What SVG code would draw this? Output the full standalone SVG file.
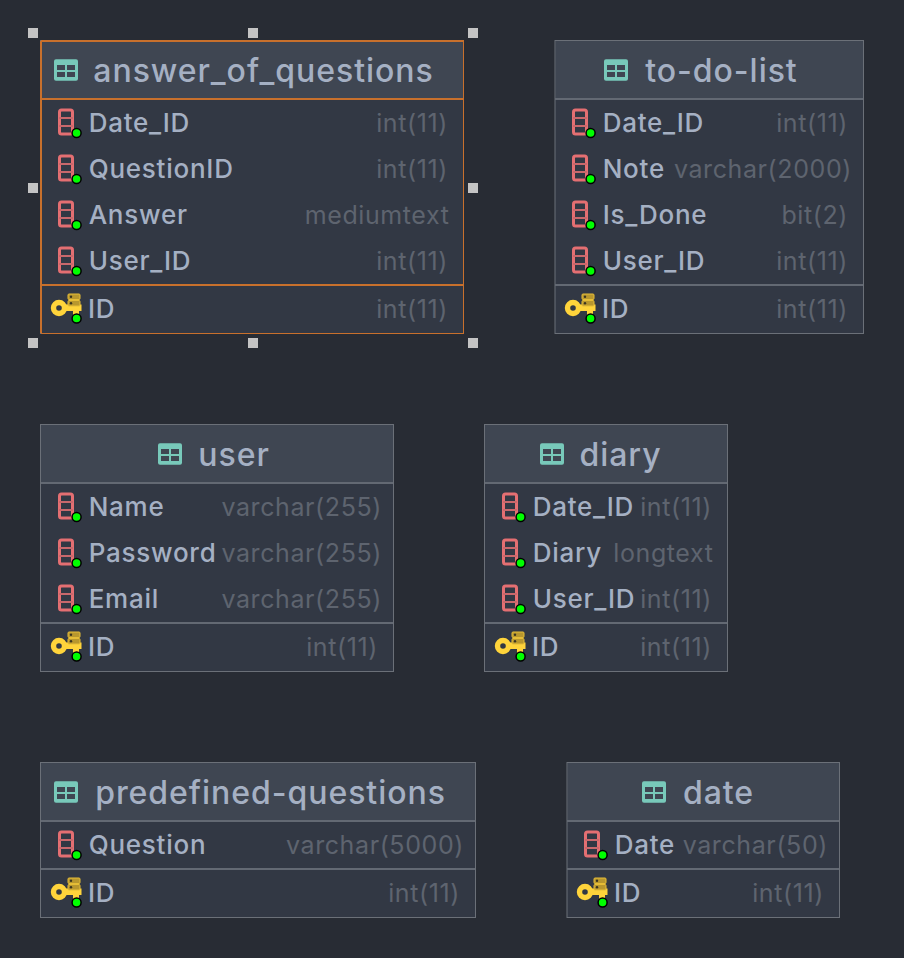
<svg xmlns="http://www.w3.org/2000/svg" xmlns:xlink="http://www.w3.org/1999/xlink" width="904" height="958" viewBox="0 0 904 958">
<style>
text{font-family:Inter,"Noto Sans","Liberation Sans",sans-serif}
.body{fill:#323844;stroke:#6b7078;stroke-width:1}
.head{fill:#3f4652}
.sep{stroke:#636973;stroke-width:2}
.title{font-size:32px;font-weight:500;fill:#a5b0c3;letter-spacing:.95px;text-anchor:middle}
.name{font-size:26px;font-weight:500;fill:#a5b0c3;letter-spacing:.75px}
.type{font-size:25px;fill:#5e646f;text-anchor:end;letter-spacing:.6px}
.sel{stroke:#c8702c}
.h{fill:#c4c4c4}
</style>
<defs>
<g id="tbl"><rect x="0" y="-.7" width="24" height="21.400" rx="2" fill="#78c9ba"/><g fill="#3f4652"><rect x="3" y="5" width="8" height="5"/><rect x="13" y="5" width="8" height="5"/><rect x="3" y="12" width="8" height="5"/><rect x="13" y="12" width="8" height="5"/></g></g>
<g id="col"><rect x="1.500" y="1" width="13" height="24" rx="2" fill="none" stroke="#e46f72" stroke-width="3"/><path d="M1 9h14M1 17h14" stroke="#c9686c" stroke-width="2.200"/><circle cx="18.600" cy="24" r="4.500" fill="#0f0" stroke="#000" stroke-width="1.500"/></g>
<g id="key"><circle cx="8" cy="14" r="5.500" fill="none" stroke="#ffd43b" stroke-width="5.400"/><path d="M13 10.500h17.500v6.500h-2.500v7h-6v-7H13z" fill="#ffd43b"/><g fill="#b8972e" stroke="#e6bd36" stroke-width="1"><rect x="17" y="0" width="12" height="5.500" rx="1"/><rect x="17" y="6.500" width="12" height="5.500" rx="1"/></g><circle cx="20" cy="2.800" r="1.200" fill="#3a3420"/><circle cx="20" cy="9.300" r="1.200" fill="#3a3420"/><circle cx="25.600" cy="24.500" r="4.500" fill="#0f0" stroke="#000" stroke-width="1.500"/></g>
</defs>
<rect width="904" height="958" fill="#282c34"/>
<g id="connectors"/>

<g id="answer_of_questions">
<rect class="body" x="40.500" y="40.500" width="423" height="293"/>
<rect class="head" x="42" y="42" width="421" height="57"/>
<path class="sep sel" d="M41 99H463M41 285H463" fill="none"/>
<path d="M41 41H464" class="sep sel" fill="none"/><path d="M41 41V333" class="sep sel" fill="none"/><path d="M463.500 41V333M41 333.500H464" stroke="#c8702c" fill="none"/>
<use xlink:href="#tbl" x="54" y="60"/>
<text class="title" x="263.500" y="82">answer_of_questions</text>
<use xlink:href="#col" x="58" y="109"/><text class="name" x="88.700" y="132">Date_ID</text><text class="type" x="448" y="132">int(11)</text>
<use xlink:href="#col" x="58" y="155"/><text class="name" x="88.700" y="178">QuestionID</text><text class="type" x="448" y="178">int(11)</text>
<use xlink:href="#col" x="58" y="201"/><text class="name" x="88.700" y="224">Answer</text><text class="type" x="449.500" y="224">mediumtext</text>
<use xlink:href="#col" x="58" y="247"/><text class="name" x="88.700" y="270">User_ID</text><text class="type" x="448" y="270">int(11)</text>
<use xlink:href="#key" x="51" y="294"/><text class="name" x="88" y="318">ID</text><text class="type" x="448" y="318">int(11)</text>
<g class="h"><rect x="28" y="28" width="10" height="10"/><rect x="248" y="28" width="10" height="10"/><rect x="468" y="28" width="10" height="10"/><rect x="28" y="183" width="10" height="10"/><rect x="468" y="183" width="10" height="10"/><rect x="28" y="338" width="10" height="10"/><rect x="248" y="338" width="10" height="10"/><rect x="468" y="338" width="10" height="10"/></g>
</g>

<g id="to-do-list">
<rect class="body" x="555" y="40.500" width="308.500" height="293"/>
<rect class="head" x="556" y="41" width="307" height="58"/>
<path class="sep" d="M555 99H863M555 285H863"/>
<use xlink:href="#tbl" x="604" y="60"/>
<text class="title" x="721.500" y="82">to-do-list</text>
<use xlink:href="#col" x="572" y="109"/><text class="name" x="602.700" y="132">Date_ID</text><text class="type" x="848" y="132">int(11)</text>
<use xlink:href="#col" x="572" y="155"/><text class="name" x="602.700" y="178">Note</text><text class="type" x="852" y="178">varchar(2000)</text>
<use xlink:href="#col" x="572" y="201"/><text class="name" x="602.700" y="224">Is_Done</text><text class="type" x="848" y="224">bit(2)</text>
<use xlink:href="#col" x="572" y="247"/><text class="name" x="602.700" y="270">User_ID</text><text class="type" x="848" y="270">int(11)</text>
<use xlink:href="#key" x="565" y="294"/><text class="name" x="602" y="318">ID</text><text class="type" x="848" y="318">int(11)</text>
</g>

<g id="user">
<rect class="body" x="40.500" y="424.500" width="353" height="247"/>
<rect class="head" x="41" y="425" width="352" height="58"/>
<path class="sep" d="M41 483H393M41 623H393"/>
<use xlink:href="#tbl" x="158" y="444"/>
<text class="title" x="234" y="466">user</text>
<use xlink:href="#col" x="58" y="493"/><text class="name" x="88.700" y="516">Name</text><text class="type" x="382" y="516">varchar(255)</text>
<use xlink:href="#col" x="58" y="539"/><text class="name" x="88.700" y="562">Password</text><text class="type" x="382" y="562">varchar(255)</text>
<use xlink:href="#col" x="58" y="585"/><text class="name" x="88.700" y="608">Email</text><text class="type" x="382" y="608">varchar(255)</text>
<use xlink:href="#key" x="51" y="632"/><text class="name" x="88" y="656">ID</text><text class="type" x="378" y="656">int(11)</text>
</g>

<g id="diary">
<rect class="body" x="484.500" y="424.500" width="243" height="247"/>
<rect class="head" x="485" y="425" width="242" height="58"/>
<path class="sep" d="M485 483H727M485 623H727"/>
<use xlink:href="#tbl" x="540" y="444"/>
<text class="title" x="620.500" y="466">diary</text>
<use xlink:href="#col" x="502" y="493"/><text class="name" x="532.700" y="516">Date_ID</text><text class="type" x="712" y="516">int(11)</text>
<use xlink:href="#col" x="502" y="539"/><text class="name" x="532.700" y="562">Diary</text><text class="type" x="713.500" y="562">longtext</text>
<use xlink:href="#col" x="502" y="585"/><text class="name" x="532.700" y="608">User_ID</text><text class="type" x="712" y="608">int(11)</text>
<use xlink:href="#key" x="495" y="632"/><text class="name" x="532" y="656">ID</text><text class="type" x="712" y="656">int(11)</text>
</g>

<g id="predefined-questions">
<rect class="body" x="40.500" y="762.500" width="435" height="155"/>
<rect class="head" x="41" y="763" width="434" height="58"/>
<path class="sep" d="M41 821H475M41 869H475"/>
<use xlink:href="#tbl" x="54" y="782"/>
<text class="title" x="270.500" y="804">predefined-questions</text>
<use xlink:href="#col" x="58" y="831"/><text class="name" x="88.700" y="854">Question</text><text class="type" x="464" y="854">varchar(5000)</text>
<use xlink:href="#key" x="51" y="878"/><text class="name" x="88" y="902">ID</text><text class="type" x="460" y="902">int(11)</text>
</g>

<g id="date">
<rect class="body" x="567" y="762.500" width="272.500" height="155"/>
<rect class="head" x="568" y="763" width="271" height="58"/>
<path class="sep" d="M567 821H839M567 869H839"/>
<use xlink:href="#tbl" x="642" y="782"/>
<text class="title" x="718.500" y="804">date</text>
<use xlink:href="#col" x="584" y="831"/><text class="name" x="614.700" y="854">Date</text><text class="type" x="828" y="854">varchar(50)</text>
<use xlink:href="#key" x="577" y="878"/><text class="name" x="614" y="902">ID</text><text class="type" x="824" y="902">int(11)</text>
</g>
</svg>
